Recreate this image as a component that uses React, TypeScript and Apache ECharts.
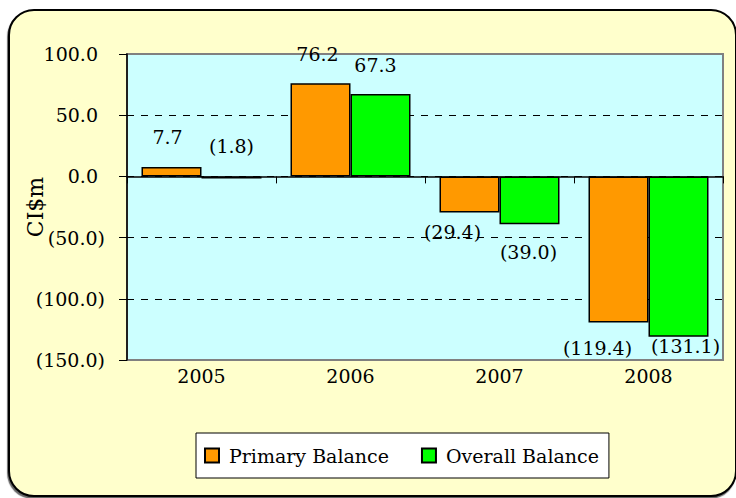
import React, { useEffect, useRef } from "react";
import * as echarts from "echarts";

const categories = ["2005", "2006", "2007", "2008"];
const primaryBalance = [7.7, 76.2, -29.4, -119.4];
const overallBalance = [-1.8, 67.3, -39.0, -131.1];
const yMin = -150;
const yMax = 100;
const yStep = 50;
const seriesNames = ["Primary Balance", "Overall Balance"];

const FONT = "DejaVu Serif";

// label placement styling (Excel-like manual placement)
const primaryLabelLayout = [
  { pos: "top", dist: 20, dx: -4 },
  { pos: "top", dist: 20, dx: -3 },
  { pos: "bottom", dist: 10, dx: -17 },
  { pos: "bottom", dist: 16, dx: -21 },
];
const overallLabelLayout = [
  { pos: "top", dist: 21, dx: 0 },
  { pos: "top", dist: 20, dx: -5 },
  { pos: "bottom", dist: 18, dx: -1 },
  { pos: "bottom", dist: 0, dx: 7 },
];

const fmt = (v: number) => (v < 0 ? `(${Math.abs(v).toFixed(1)})` : v.toFixed(1));

function buildData(values: number[], layout: { pos: string; dist: number; dx: number }[]) {
  return values.map((v, i) => ({
    value: v,
    label: {
      position: layout[i].pos,
      distance: layout[i].dist,
      offset: [layout[i].dx, 0],
    },
  }));
}

export default function App() {
  const ref = useRef<HTMLDivElement>(null);
  useEffect(() => {
    if (!ref.current) return;
    const chart = echarts.init(ref.current, null, { renderer: "svg" });
    const labelStyle = {
      show: true,
      fontFamily: FONT,
      fontSize: 19,
      color: "#000",
      formatter: (p: any) => fmt(p.value),
    };
    chart.setOption({
      animation: false,
      grid: {
        left: 127,
        right: 13,
        top: 54,
        bottom: 138,
        show: true,
        backgroundColor: "#CCFFFF",
        borderColor: "#808080",
        borderWidth: 2,
      },
      legend: {
        left: 196,
        top: 433,
        orient: "horizontal",
        icon: "rect",
        itemWidth: 14,
        itemHeight: 14,
        itemGap: 32,
        padding: [13, 10, 13, 8],
        borderColor: "#000",
        borderWidth: 1,
        backgroundColor: "#FFFFFF",
        textStyle: { fontFamily: FONT, fontSize: 19, color: "#000", padding: [0, 0, 0, 5] },
        data: seriesNames,
      },
      xAxis: [
        {
          type: "category",
          data: categories,
          position: "top",
          axisLine: { show: true, onZero: true, lineStyle: { color: "#000", width: 1.5 } },
          axisTick: { show: true, inside: true, length: 7, lineStyle: { color: "#000", width: 1 } },
          axisLabel: { show: false },
          splitLine: { show: false },
        },
        {
          type: "category",
          data: categories,
          position: "bottom",
          axisLine: { show: false, onZero: false },
          axisTick: { show: false },
          axisLabel: { show: true, margin: 6, fontFamily: FONT, fontSize: 19, color: "#000" },
          splitLine: { show: false },
        },
      ],
      yAxis: {
        type: "value",
        min: yMin,
        max: yMax,
        interval: yStep,
        name: "CI$m",
        nameLocation: "middle",
        nameGap: 81,
        nameMoveOverlap: false,
        nameTextStyle: { fontFamily: FONT, fontSize: 22, color: "#000" },
        axisLine: { show: true, lineStyle: { color: "#000", width: 1.5 } },
        axisTick: { show: true, length: 8, lineStyle: { color: "#000", width: 1 } },
        axisLabel: {
          margin: 22,
          fontFamily: FONT,
          fontSize: 19,
          color: "#000",
          formatter: (v: number) => (v < 0 ? fmt(v) : `{p|${fmt(v)}}`),
          rich: { p: { padding: [0, 7, 0, 0], fontFamily: FONT, fontSize: 19, color: "#000" } },
        },
        splitLine: {
          show: true,
          showMinLine: false,
          showMaxLine: false,
          lineStyle: { type: [7, 7], color: "#000", width: 1 },
        },
      },
      series: [
        {
          name: seriesNames[0],
          type: "bar",
          xAxisIndex: 0,
          barWidth: 60,
          barGap: "0%",
          itemStyle: { color: "#FF9900", borderColor: "#000", borderWidth: 1.5 },
          label: labelStyle,
          data: buildData(primaryBalance, primaryLabelLayout),
        },
        {
          name: seriesNames[1],
          type: "bar",
          xAxisIndex: 0,
          barWidth: 60,
          barGap: "0%",
          itemStyle: { color: "#00FF00", borderColor: "#000", borderWidth: 1.5 },
          label: labelStyle,
          data: buildData(overallBalance, overallLabelLayout),
        },
      ],
    });
    return () => chart.dispose();
  }, []);

  return (
    <div
      style={{
        position: "fixed",
        left: 0,
        top: 0,
        width: 736,
        height: 498,
        overflow: "hidden",
        background: "#FFFFFF",
      }}
    >
      <div
        style={{
          position: "absolute",
          left: 8,
          top: 9,
          width: 725,
          height: 484,
          border: "2px solid #000",
          borderRadius: 26,
          background: "#FFFFCC",
          boxShadow: "-1px 2px 1px rgba(0,0,0,0.6)",
        }}
      />
      <div ref={ref} style={{ position: "absolute", left: 0, top: 0, width: 736, height: 498 }} />
    </div>
  );
}
